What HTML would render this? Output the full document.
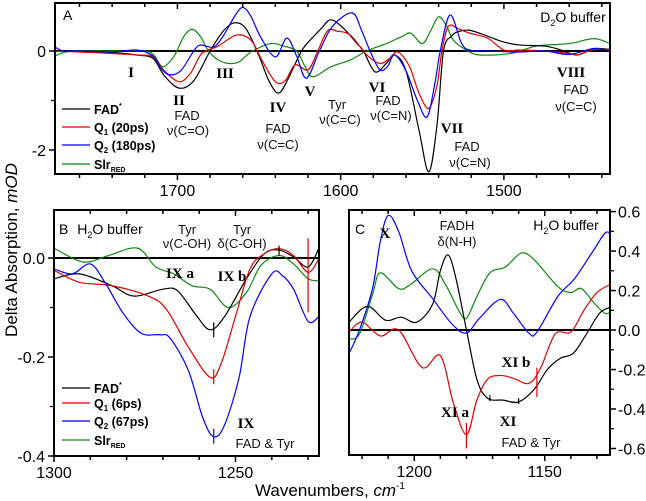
<!DOCTYPE html>
<html><head><meta charset="utf-8">
<style>
html,body{margin:0;padding:0;background:#fff;}
svg{display:block;font-family:"Liberation Sans",Arial,sans-serif;}
.rom{font-family:"Liberation Serif",serif;font-weight:bold;font-size:15px;}
.ann{font-size:13px;fill:#111;}
.tick{font-size:16px;fill:#000;}
.leg{font-size:12.5px;font-weight:bold;}
</style></head>
<body>
<svg id="chart" width="646" height="501" viewBox="0 0 646 501" xmlns="http://www.w3.org/2000/svg">
<g id="marks"></g>
<g id="frames"></g>
<!-- Panel A texts -->
<text x="63" y="20" font-size="14">A</text>
<text x="573" y="22" text-anchor="middle" font-size="14">D<tspan font-size="9" dy="4">2</tspan><tspan dy="-4">O buffer</tspan></text>
<text class="rom" x="131" y="77" text-anchor="middle">I</text>
<text class="rom" x="179" y="105" text-anchor="middle">II</text>
<text class="ann" x="187" y="120" text-anchor="middle">FAD</text>
<text class="ann" x="188" y="135" text-anchor="middle">ν(C=O)</text>
<text class="rom" x="225" y="78" text-anchor="middle">III</text>
<text class="rom" x="278" y="112" text-anchor="middle">IV</text>
<text class="ann" x="278" y="133" text-anchor="middle">FAD</text>
<text class="ann" x="278" y="149" text-anchor="middle">ν(C=C)</text>
<text class="rom" x="310" y="96" text-anchor="middle">V</text>
<text class="ann" x="337" y="109" text-anchor="middle">Tyr</text>
<text class="ann" x="340" y="124" text-anchor="middle">ν(C=C)</text>
<text class="rom" x="377" y="92" text-anchor="middle">VI</text>
<text class="ann" x="388" y="105" text-anchor="middle">FAD</text>
<text class="ann" x="391" y="120" text-anchor="middle">ν(C=N)</text>
<text class="rom" x="452" y="133" text-anchor="middle">VII</text>
<text class="ann" x="467" y="151" text-anchor="middle">FAD</text>
<text class="ann" x="470" y="167" text-anchor="middle">ν(C=N)</text>
<text class="rom" x="571" y="77" text-anchor="middle">VIII</text>
<text class="ann" x="576" y="94" text-anchor="middle">FAD</text>
<text class="ann" x="576" y="111" text-anchor="middle">ν(C=C)</text>
<!-- Panel A legend -->
<g>
<line x1="62" y1="109" x2="90" y2="109" stroke="#000" stroke-width="1.3"/>
<text class="leg" x="94" y="114">FAD<tspan font-size="7" dy="-6">*</tspan></text>
<line x1="62" y1="127" x2="90" y2="127" stroke="#e00000" stroke-width="1.3"/>
<text class="leg" x="94" y="132">Q<tspan font-size="8" dy="3">1</tspan><tspan dy="-3"> (20ps)</tspan></text>
<line x1="62" y1="145" x2="90" y2="145" stroke="#0000ff" stroke-width="1.3"/>
<text class="leg" x="94" y="150">Q<tspan font-size="8" dy="3">2</tspan><tspan dy="-3"> (180ps)</tspan></text>
<line x1="62" y1="164" x2="90" y2="164" stroke="#118811" stroke-width="1.3"/>
<text class="leg" x="94" y="169">Slr<tspan font-size="7" dy="3">RED</tspan></text>
</g>
<!-- Panel B texts -->
<text x="59" y="234" font-size="14">B</text>
<text x="110" y="234" text-anchor="middle" font-size="14">H<tspan font-size="9" dy="4">2</tspan><tspan dy="-4">O buffer</tspan></text>
<text class="ann" x="187" y="234" text-anchor="middle">Tyr</text>
<text class="ann" x="187" y="248" text-anchor="middle">ν(C-OH)</text>
<text class="ann" x="242" y="234" text-anchor="middle">Tyr</text>
<text class="ann" x="242" y="248" text-anchor="middle">δ(C-OH)</text>
<text class="rom" x="180" y="278" text-anchor="middle">IX a</text>
<text class="rom" x="232" y="281" text-anchor="middle">IX b</text>
<text class="rom" x="246" y="428" text-anchor="middle">IX</text>
<text class="ann" x="265" y="448" text-anchor="middle">FAD &amp; Tyr</text>
<g>
<line x1="62" y1="388" x2="90" y2="388" stroke="#000" stroke-width="1.3"/>
<text class="leg" x="94" y="393">FAD<tspan font-size="7" dy="-6">*</tspan></text>
<line x1="62" y1="403" x2="90" y2="403" stroke="#e00000" stroke-width="1.3"/>
<text class="leg" x="94" y="408">Q<tspan font-size="8" dy="3">1</tspan><tspan dy="-3"> (6ps)</tspan></text>
<line x1="62" y1="421" x2="90" y2="421" stroke="#0000ff" stroke-width="1.3"/>
<text class="leg" x="94" y="426">Q<tspan font-size="8" dy="3">2</tspan><tspan dy="-3"> (67ps)</tspan></text>
<line x1="62" y1="440" x2="90" y2="440" stroke="#118811" stroke-width="1.3"/>
<text class="leg" x="94" y="445">Slr<tspan font-size="7" dy="3">RED</tspan></text>
</g>
<!-- Panel C texts -->
<text x="355" y="234" font-size="14">C</text>
<text class="rom" x="385" y="238" text-anchor="middle">X</text>
<text class="ann" x="457" y="230" text-anchor="middle">FADH</text>
<text class="ann" x="457" y="246" text-anchor="middle">δ(N-H)</text>
<text x="566" y="230" text-anchor="middle" font-size="14">H<tspan font-size="9" dy="4">2</tspan><tspan dy="-4">O buffer</tspan></text>
<text class="rom" x="516" y="367" text-anchor="middle">XI b</text>
<text class="rom" x="455" y="417" text-anchor="middle">XI a</text>
<text class="rom" x="508" y="426" text-anchor="middle">XI</text>
<text class="ann" x="531" y="447" text-anchor="middle">FAD &amp; Tyr</text>
<!-- Axis titles -->
<text x="0" y="0" transform="translate(17,250) rotate(-90)" text-anchor="middle" font-size="17">Delta Absorption, <tspan font-style="italic">mOD</tspan></text>
<text x="330" y="496" text-anchor="middle" font-size="17">Wavenumbers, <tspan font-style="italic">cm</tspan><tspan font-size="10" dy="-7">-1</tspan></text>
</svg>
<script>
// ---------- Panel A data ----------
const aFadWn=[1775,1760,1740,1725,1715,1708,1699,1690,1680,1672,1665,1658,1650,1644,1638,1632,1624,1617,1612,1606,1598,1590,1586,1579,1572,1567,1560,1552,1546,1541,1537,1532,1528,1521,1510,1500,1490,1475,1465,1455,1445,1435];
const aFadVal=[0,0,-0.03,-0.08,-0.15,-0.5,-0.75,-0.6,0,0.4,0.57,0.45,-0.1,-0.6,-0.85,-0.55,0,0.28,0.45,0.63,0.45,0.15,0,-0.42,-0.25,-0.08,-0.4,-1.6,-2.44,-1.5,0,0.3,0.39,0.42,0.3,0.18,0.12,0.1,0.02,-0.08,0.05,0.03];
const aQ1Wn=[1775,1760,1740,1725,1715,1708,1699,1692,1685,1675,1664,1655,1648,1640,1634,1628,1620,1614,1608,1602,1594,1584,1576,1570,1565,1558,1552,1546,1541,1538,1534,1528,1521,1510,1500,1490,1475,1460,1455,1445,1435];
const aQ1Val=[0,-0.02,-0.05,-0.08,-0.12,-0.4,-0.62,-0.45,-0.05,0.1,0.32,0.22,-0.2,-0.62,-0.6,-0.28,-0.38,0,0.41,0.4,0.32,-0.08,-0.25,-0.15,-0.02,-0.3,-0.85,-1.16,-0.7,0,0.5,0.45,0.36,0.26,0.02,0.02,0,-0.05,-0.08,0.03,0.02];
const aQ2Wn=[1775,1770,1760,1740,1725,1715,1710,1705,1698,1690,1686,1678,1672,1665,1660,1655,1649,1640,1633,1627,1621,1613,1605,1593,1587,1582,1576,1571,1567,1560,1553,1547,1542,1539,1533,1526,1521,1510,1490,1475,1460,1445,1435];
const aQ2Val=[0.08,0,0,-0.02,0.02,-0.1,-0.35,-0.48,-0.4,0,0.12,0.08,0.3,0.7,0.88,0.7,0.28,-0.12,0.26,-0.1,-0.55,0,0.5,0.77,0.4,0,-0.38,-0.3,-0.08,-0.4,-1.0,-1.33,-0.6,0,0.73,0.16,0.02,0,-0.02,0,-0.07,0.05,0];
const aSlrWn=[1775,1765,1740,1720,1714,1709,1702,1696,1691,1686,1681,1675,1669,1663,1658,1654,1643,1635,1627,1622,1617,1606,1594,1584,1572,1562,1557,1550,1545,1540,1535,1531,1523,1515,1496,1480,1460,1445,1435];
const aSlrVal=[-0.1,0,0,0,-0.1,-0.32,-0.1,0.3,0.44,0.3,0,-0.18,-0.25,-0.23,-0.1,0,0.15,0.1,0,-0.3,-0.52,-0.32,-0.18,0,0.15,0.3,0.36,0.15,0.4,0.69,0.5,0.22,0.02,-0.08,-0.05,0.1,0.15,0.25,0.15];
const aXTicks=[1700,1600,1500];
const aYTicks=[0,-2];
// ---------- Panel B data ----------
const bFadWn=[1300,1293,1284,1278,1270,1266,1261,1257,1253,1247,1242,1238,1234,1230,1227];
const bFadVal=[-0.042,-0.032,-0.056,-0.077,-0.063,-0.066,-0.114,-0.145,-0.118,-0.042,0.009,0.016,0.002,-0.018,0.02];
const bQ1Wn=[1300,1293,1284,1274,1269,1263,1257,1254,1250,1246,1242,1238,1234,1230,1227];
const bQ1Val=[-0.025,-0.049,-0.056,-0.077,-0.104,-0.18,-0.241,-0.214,-0.118,-0.022,0.009,0.019,0.005,-0.029,-0.001];
const bQ2Wn=[1300,1295,1290,1286,1281,1276,1271,1268,1263,1259,1256,1253,1249,1246,1240,1237,1234,1230,1227];
const bQ2Val=[-0.022,-0.032,-0.012,-0.049,-0.111,-0.152,-0.155,-0.162,-0.227,-0.323,-0.361,-0.337,-0.241,-0.118,-0.032,-0.036,-0.063,-0.128,-0.118];
const bSlrWn=[1300,1292,1285,1277,1272,1267,1262,1257,1252,1247,1243,1238,1234,1230,1227];
const bSlrVal=[0.02,-0.008,0.005,0.02,-0.018,-0.032,-0.056,-0.063,-0.1,-0.07,-0.015,0.005,-0.012,-0.042,-0.046];
const bXTicks=[1300,1250];
const bYTicks=[0,-0.2,-0.4];
const bErrWn=[1256,1256,1256,1230,1238];
const bErrHi=[-0.13,-0.225,-0.345,0.04,0.025];
const bErrLo=[-0.16,-0.255,-0.375,-0.11,0.005];
const bErrSeries=['fad','q1','q2','q1','fad'];
// ---------- Panel C data ----------
const cFadWn=[1225,1218,1211,1205,1199,1193,1190,1187,1184,1180,1176,1172,1166,1160,1154,1149,1144,1139,1134,1129,1125];
const cFadVal=[0.04,0.12,0.05,0.065,0.04,0.13,0.3,0.38,0.26,0,-0.25,-0.345,-0.355,-0.364,-0.3,-0.2,-0.143,-0.117,-0.02,0.085,0.115];
const cQ1Wn=[1225,1220,1213,1206,1197,1190,1185,1180,1176,1172,1167,1162,1156,1151.5,1146,1140,1135,1130,1125];
const cQ1Val=[-0.01,0.04,-0.03,0,-0.19,-0.13,-0.37,-0.53,-0.355,-0.25,-0.23,-0.245,-0.27,-0.19,-0.02,-0.01,0.1,0.19,0.23];
const cQ2Wn=[1225,1221,1216,1213,1210,1206,1201,1193,1185.5,1180,1175,1167,1162,1156,1153,1145,1138.6,1132,1127,1125];
const cQ2Val=[-0.12,0,0.21,0.45,0.58,0.5,0.3,0.16,0.03,-0.015,0.06,0.155,0.085,-0.017,-0.01,0.17,0.26,0.39,0.49,0.49];
const cSlrWn=[1225,1221,1216,1213,1206,1201.5,1193,1188,1183,1180,1176,1171,1165,1159,1154,1145,1140,1136,1131,1127,1125];
const cSlrVal=[-0.045,-0.02,0.18,0.29,0.21,0.23,0.31,0.23,0.1,0.06,0.17,0.29,0.32,0.39,0.355,0.22,0.19,0.21,0.135,0.085,0.09];
const cXTicks=[1200,1150];
const cYTicks=[0.6,0.4,0.2,0,-0.2,-0.4,-0.6];
const cErrWn=[1180,1153,1171,1160];
const cErrHi=[-0.47,-0.19,-0.33,-0.345];
const cErrLo=[-0.6,-0.34,-0.36,-0.375];
const cErrSeries=['q1','q1','fad','fad'];

const COLORS={fad:'#000000',q1:'#e00000',q2:'#0000ff',slr:'#118811'};
const NS='http://www.w3.org/2000/svg';
const marks=document.getElementById('marks');
const frames=document.getElementById('frames');

function mk(tag,attrs,parent){const e=document.createElementNS(NS,tag);for(const k in attrs)e.setAttribute(k,attrs[k]);(parent||marks).appendChild(e);return e;}

function smoothPath(pts){
  let d='M'+pts[0][0].toFixed(2)+','+pts[0][1].toFixed(2);
  for(let i=0;i<pts.length-1;i++){
    const p0=pts[i-1]||pts[i],p1=pts[i],p2=pts[i+1],p3=pts[i+2]||p2;
    const c1x=p1[0]+(p2[0]-p0[0])/6,c1y=p1[1]+(p2[1]-p0[1])/6;
    const c2x=p2[0]-(p3[0]-p1[0])/6,c2y=p2[1]-(p3[1]-p1[1])/6;
    d+=' C'+c1x.toFixed(2)+','+c1y.toFixed(2)+' '+c2x.toFixed(2)+','+c2y.toFixed(2)+' '+p2[0].toFixed(2)+','+p2[1].toFixed(2);
  }
  return d;
}

function panel(cfg){
  const {x0,x1,y0,y1,wnL,wnR,vTop,vBot}=cfg;
  const sx=w=>x0+(wnL-w)/(wnL-wnR)*(x1-x0);
  const sy=v=>y0+(vTop-v)/(vTop-vBot)*(y1-y0);
  const clipId='clip-'+cfg.id;
  const cp=mk('clipPath',{id:clipId});
  mk('rect',{x:x0,y:y0,width:x1-x0,height:y1-y0},cp);
  const g=mk('g',{'clip-path':'url(#'+clipId+')'});
  
  
  // zero line
  const z=mk('line',{x1:x0,x2:x1,y1:sy(0),y2:sy(0),stroke:'#000','stroke-width':2},g);
  
  
  cfg.series.forEach(s=>{
    const pts=s.wn.map((w,i)=>[sx(w),sy(s.val[i])]);
    const p=mk('path',{d:smoothPath(pts),fill:'none',stroke:COLORS[s.key],'stroke-width':1.2},g);
    
    
  });
  if(cfg.err){
    cfg.err.wn.forEach((w,i)=>{
      const e=mk('line',{x1:sx(w),x2:sx(w),y1:sy(cfg.err.hi[i]),y2:sy(cfg.err.lo[i]),stroke:COLORS[cfg.err.s[i]],'stroke-width':1.2},g);
      
      
    });
  }
  // frame
  const f=mk('rect',{x:x0,y:y0,width:x1-x0,height:y1-y0,fill:'none',stroke:'#000','stroke-width':2},frames);
  
  
  // x ticks (minor + major)
  const lo=Math.min(wnL,wnR),hi=Math.max(wnL,wnR);
  for(let w=Math.ceil(lo/cfg.minor)*cfg.minor;w<=hi;w+=cfg.minor){
    const X=sx(w);const major=cfg.xTicks.includes(w);
    const len=major?6:4;
    mk('line',{x1:X,x2:X,y1:y1,y2:y1+len,stroke:'#000','stroke-width':1.5},frames);
    mk('line',{x1:X,x2:X,y1:y0,y2:y0+len,stroke:'#000','stroke-width':1.5},frames);
  }
  cfg.xTicks.forEach(w=>{
    const t=mk('text',{x:sx(w),y:y1+22,'text-anchor':'middle',class:'tick'},frames);
    t.textContent=String(w);
    
    
  });
  cfg.yTicks.forEach(v=>{
    const Y=sy(v);
    if(cfg.yRight){
      mk('line',{x1:x1,x2:x1+6,y1:Y,y2:Y,stroke:'#000','stroke-width':1.5},frames);
      const t=mk('text',{x:x1+8,y:Y+6,'text-anchor':'start',class:'tick'},frames);
      t.textContent=cfg.fmt(v);
      
      
    } else {
      mk('line',{x1:x0-6,x2:x0,y1:Y,y2:Y,stroke:'#000','stroke-width':1.5},frames);
      const t=mk('text',{x:x0-9,y:Y+6,'text-anchor':'end',class:'tick'},frames);
      t.textContent=cfg.fmt(v);
      
      
    }
  });
  if(cfg.yMinor){
    cfg.yMinor.forEach(v=>{const Y=sy(v);
      if(cfg.yRight) mk('line',{x1:x1,x2:x1+4,y1:Y,y2:Y,stroke:'#000','stroke-width':1.2},frames);
      else mk('line',{x1:x0-4,x2:x0,y1:Y,y2:Y,stroke:'#000','stroke-width':1.2},frames);});
  }
}

panel({id:'panel-a',x0:55,x1:610,y0:3,y1:174,wnL:1775,wnR:1435,vTop:0.97,vBot:-2.485,minor:20,
  xTicks:aXTicks,yTicks:aYTicks,yMinor:[-1],fmt:v=>String(v),
  series:[{key:'slr',wn:aSlrWn,val:aSlrVal},{key:'fad',wn:aFadWn,val:aFadVal},{key:'q1',wn:aQ1Wn,val:aQ1Val},{key:'q2',wn:aQ2Wn,val:aQ2Val}]});
panel({id:'panel-b',x0:54,x1:319,y0:210,y1:456,wnL:1300,wnR:1227,vTop:0.097,vBot:-0.4,minor:10,
  xTicks:bXTicks,yTicks:bYTicks,yMinor:[-0.1,-0.3],fmt:v=>v.toFixed(1),
  series:[{key:'slr',wn:bSlrWn,val:bSlrVal},{key:'fad',wn:bFadWn,val:bFadVal},{key:'q1',wn:bQ1Wn,val:bQ1Val},{key:'q2',wn:bQ2Wn,val:bQ2Val}],
  err:{wn:bErrWn,hi:bErrHi,lo:bErrLo,s:bErrSeries}});
panel({id:'panel-c',x0:349,x1:610,y0:210,y1:455,wnL:1225,wnR:1125,vTop:0.608,vBot:-0.633,minor:10,yRight:true,
  xTicks:cXTicks,yTicks:cYTicks,yMinor:[0.5,0.3,0.1,-0.1,-0.3,-0.5],fmt:v=>v.toFixed(1),
  series:[{key:'slr',wn:cSlrWn,val:cSlrVal},{key:'fad',wn:cFadWn,val:cFadVal},{key:'q1',wn:cQ1Wn,val:cQ1Val},{key:'q2',wn:cQ2Wn,val:cQ2Val}],
  err:{wn:cErrWn,hi:cErrHi,lo:cErrLo,s:cErrSeries}});
</script>
</body></html>
